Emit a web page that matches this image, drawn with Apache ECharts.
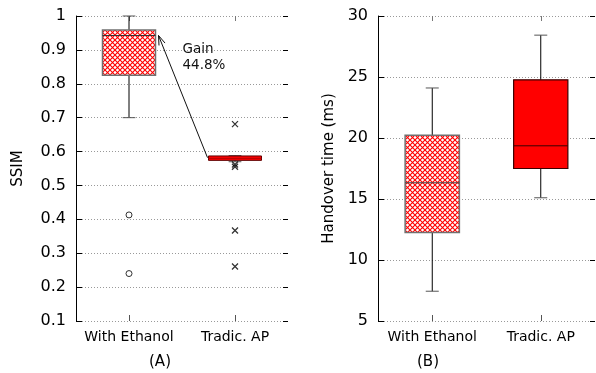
<!DOCTYPE html>
<html>
<head>
<meta charset="utf-8">
<script src="https://cdn.jsdelivr.net/npm/echarts@6/dist/echarts.min.js"></script>
<style>html,body{margin:0;padding:0;background:#fff;}#c{width:596px;height:373px;}</style>
</head>
<body>
<div id="c"></div>
<script>
// ---- data ----
const categories = ['With Ethanol', 'Tradic. AP'];
// [lowWhisker, q1, median, q3, highWhisker]
const ssimEthanol = [0.70, 0.825, 0.9425, 0.959, 1.0];
const ssimTradic = [0.570, 0.574, 0.580, 0.587, 0.588];
const ssimOutEthanol = [0.413, 0.240];
const ssimOutTradic = [0.681, 0.562, 0.555, 0.367, 0.261];
const handoverEthanol = [7.44, 12.25, 16.33, 20.23, 24.1];
const handoverTradic = [15.1, 17.5, 19.36, 24.77, 28.43];
const ssimAxis = { min: 0.1, max: 1, interval: 0.1 };
const handoverAxis = { min: 5, max: 30, interval: 5 };
const gainText = 'Gain\n44.8%';
const gainArrow = { from: [1, 0.582], to: [0, 0.9425] };

// ---- hatch pattern ----
function makeHatch() {
  const s = 5;
  const cv = document.createElement('canvas');
  cv.width = s; cv.height = s;
  const ctx = cv.getContext('2d');
  ctx.fillStyle = '#ffffff';
  ctx.fillRect(0, 0, s, s);
  ctx.strokeStyle = '#ff0000';
  ctx.lineWidth = 1.1;
  ctx.beginPath();
  ctx.moveTo(-1, -1); ctx.lineTo(s + 1, s + 1);
  ctx.moveTo(s + 1, -1); ctx.lineTo(-1, s + 1);
  ctx.stroke();
  return cv;
}
const hatch = { image: makeHatch(), repeat: 'repeat' };

const FONT = 'DejaVu Sans';

function boxItem(stylesFor) {
  return function (params, api) {
    const x = api.value(0);
    const lo = api.value(1), q1 = api.value(2), med = api.value(3), q3 = api.value(4), hi = api.value(5);
    const band = api.size([1, 0])[0];
    const bw = band * 0.5, cw = band * 0.12;
    const pLo = api.coord([x, lo]), pQ1 = api.coord([x, q1]), pMed = api.coord([x, med]);
    const pQ3 = api.coord([x, q3]), pHi = api.coord([x, hi]);
    const cx = pMed[0];
    const st = stylesFor(params.dataIndex);
    return {
      type: 'group',
      children: [
        { type: 'line', shape: { x1: cx, y1: pHi[1], x2: cx, y2: pQ3[1] }, style: { stroke: '#000', lineWidth: 1 } },
        { type: 'line', shape: { x1: cx, y1: pQ1[1], x2: cx, y2: pLo[1] }, style: { stroke: '#000', lineWidth: 1 } },
        { type: 'line', shape: { x1: cx - cw / 2, y1: pHi[1], x2: cx + cw / 2, y2: pHi[1] }, style: { stroke: '#555', lineWidth: 1 } },
        { type: 'line', shape: { x1: cx - cw / 2, y1: pLo[1], x2: cx + cw / 2, y2: pLo[1] }, style: { stroke: '#555', lineWidth: 1 } },
        { type: 'rect', shape: { x: cx - bw / 2, y: pQ3[1], width: bw, height: pQ1[1] - pQ3[1] },
          style: { fill: st.fill, stroke: st.stroke, lineWidth: st.lw } },
        { type: 'line', shape: { x1: cx - bw / 2, y1: pMed[1], x2: cx + bw / 2, y2: pMed[1] }, style: { stroke: st.med, lineWidth: 1 } }
      ]
    };
  };
}

const ssimStyles = (i) => i === 0
  ? { fill: hatch, stroke: '#707070', lw: 1.5, med: '#333' }
  : { fill: '#ff0000', stroke: '#600000', lw: 1, med: '#b00000' };
const hoStyles = (i) => i === 0
  ? { fill: hatch, stroke: '#707070', lw: 1.5, med: '#444' }
  : { fill: '#ff0000', stroke: '#3a0000', lw: 1.2, med: '#3a0000' };

function yAxes(gi, rng, name, gap) {
  return [
    {
      gridIndex: gi, type: 'value', min: rng.min, max: rng.max, interval: rng.interval,
      name: name, nameLocation: 'middle', nameGap: gap, nameRotate: 90,
      nameTextStyle: { fontFamily: FONT, fontSize: 15, color: '#000' },
      axisLine: { show: true, lineStyle: { color: '#000', width: 1 } },
      axisTick: { show: true, inside: true, length: 6, lineStyle: { color: '#000' } },
      axisLabel: { fontFamily: FONT, fontSize: 16, color: '#000', margin: 10 },
      splitLine: { show: true, lineStyle: { color: '#999', type: [1, 2], width: 1 } }
    },
    {
      gridIndex: gi, type: 'value', position: 'right', min: rng.min, max: rng.max, interval: rng.interval,
      axisLine: { show: false }, axisLabel: { show: false },
      axisTick: { show: true, inside: true, length: 5, lineStyle: { color: '#000' } },
      splitLine: { show: false }
    }
  ];
}
function xAxes(gi) {
  return [
    {
      gridIndex: gi, type: 'category', data: categories, position: 'bottom',
      axisLine: { show: false },
      axisTick: { show: true, inside: true, alignWithLabel: true, length: 6, lineStyle: { color: '#555' } },
      axisLabel: { fontFamily: FONT, fontSize: 14, color: '#000', margin: 9, interval: 0 }
    },
    {
      gridIndex: gi, type: 'category', data: categories, position: 'top',
      axisLine: { show: false },
      axisTick: { show: true, inside: true, alignWithLabel: true, length: 5, lineStyle: { color: '#777' } },
      axisLabel: { show: false }
    }
  ];
}

const xSymbol = 'path://M0,0L10,10M10,0L0,10';

const chart = echarts.init(document.getElementById('c'), null, { renderer: 'canvas' });
chart.setOption({
  animation: false,
  backgroundColor: '#fff',
  grid: [
    { left: 76, top: 16, width: 212, height: 305 },
    { left: 378, top: 16, width: 217, height: 305 }
  ],
  xAxis: [...xAxes(0), ...xAxes(1)],
  yAxis: [...yAxes(0, ssimAxis, 'SSIM', 50), ...yAxes(1, handoverAxis, 'Handover time (ms)', 41)],
  graphic: [
    { type: 'text', x: 160, y: 362, style: { text: '(A)', font: '15px "DejaVu Sans"', fill: '#000', textAlign: 'center', textVerticalAlign: 'middle' } },
    { type: 'text', x: 428, y: 362, style: { text: '(B)', font: '15px "DejaVu Sans"', fill: '#000', textAlign: 'center', textVerticalAlign: 'middle' } }
  ],
  series: [
    {
      type: 'custom', xAxisIndex: 0, yAxisIndex: 0, z: 3,
      renderItem: boxItem(ssimStyles),
      encode: { x: 0, y: [1, 2, 3, 4, 5] },
      data: [[0, ...ssimEthanol], [1, ...ssimTradic]]
    },
    {
      type: 'scatter', xAxisIndex: 0, yAxisIndex: 0, z: 4,
      symbol: 'circle', symbolSize: 6,
      itemStyle: { color: '#fff', borderColor: '#000', borderWidth: 1 },
      data: ssimOutEthanol.map(v => [0, v])
    },
    {
      type: 'scatter', xAxisIndex: 0, yAxisIndex: 0, z: 5,
      symbol: xSymbol, symbolSize: 6,
      itemStyle: { color: 'none', borderColor: '#000', borderWidth: 1.3 },
      data: ssimOutTradic.map(v => [1, v])
    },
    {
      type: 'custom', xAxisIndex: 0, yAxisIndex: 0, z: 6,
      renderItem: function (params, api) {
        const band = api.size([1, 0])[0];
        const bw = band * 0.5;
        const a = api.coord([api.value(0), api.value(1)]);
        const b = api.coord([api.value(2), api.value(3)]);
        const x1 = a[0] - bw / 2 - 1, y1 = a[1];
        const x2 = b[0] + bw / 2 + 3, y2 = b[1];
        const ang = Math.atan2(y1 - y2, x1 - x2);
        const L = 10, h = 0.33;
        return {
          type: 'group',
          children: [
            { type: 'line', shape: { x1: x1, y1: y1, x2: x2, y2: y2 }, style: { stroke: '#111', lineWidth: 1 } },
            { type: 'polyline', shape: { points: [
              [x2 + L * Math.cos(ang - h), y2 + L * Math.sin(ang - h)], [x2, y2],
              [x2 + L * Math.cos(ang + h), y2 + L * Math.sin(ang + h)]] },
              style: { stroke: '#111', lineWidth: 1, fill: 'none' } },
            { type: 'text', x: x2 + 24, y: y2 + 6,
              style: { text: gainText, font: '13.5px "DejaVu Sans"', fill: '#111', lineHeight: 16, textVerticalAlign: 'top' } }
          ]
        };
      },
      encode: { x: [0, 2], y: [1, 3] },
      data: [[gainArrow.from[0], gainArrow.from[1], gainArrow.to[0], gainArrow.to[1]]]
    },
    {
      type: 'custom', xAxisIndex: 2, yAxisIndex: 2, z: 3,
      renderItem: boxItem(hoStyles),
      encode: { x: 0, y: [1, 2, 3, 4, 5] },
      data: [[0, ...handoverEthanol], [1, ...handoverTradic]]
    }
  ]
});
</script>
</body>
</html>
